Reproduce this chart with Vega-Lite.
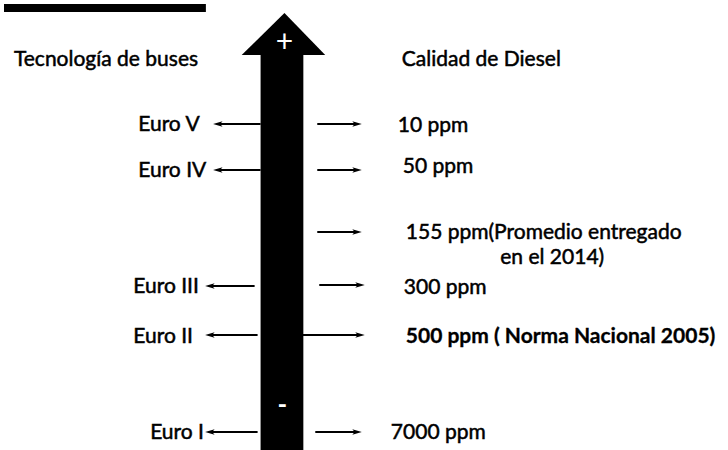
{
  "$schema": "https://vega.github.io/schema/vega-lite/v6.json",
  "width": 728,
  "height": 450,
  "padding": 0,
  "autosize": {"type": "fit", "contains": "padding"},
  "background": "white",
  "config": {"view": {"stroke": null}},
  "datasets": {
    "bar": [{"x": 0, "x2": 203, "y": 8}],
    "shaft": [{"x": 258, "x2": 301, "y": 55, "y2": 450}],
    "head": [{"x": 239, "y": 55}, {"x": 282, "y": 13}, {"x": 323, "y": 55}],
    "plus": [{"t": "+", "x": 282, "y": 43}],
    "minus": [{"t": "-", "x": 280, "y": 406}],
    "arrows": [
      {"side": "left", "y": 124, "xs": 258, "xe": 215},
      {"side": "left", "y": 170, "xs": 258, "xe": 215},
      {"side": "left", "y": 286, "xs": 252, "xe": 207},
      {"side": "left", "y": 335, "xs": 255, "xe": 207},
      {"side": "left", "y": 432, "xs": 255, "xe": 207},
      {"side": "right", "y": 124, "xs": 315, "xe": 355},
      {"side": "right", "y": 170, "xs": 315, "xe": 355},
      {"side": "right", "y": 232, "xs": 315, "xe": 355},
      {"side": "right", "y": 285, "xs": 317, "xe": 358},
      {"side": "right", "y": 335, "xs": 300, "xe": 358},
      {"side": "right", "y": 432, "xs": 313, "xe": 355}
    ],
    "labels": [
      {"t": "Tecnología de buses", "x": 10, "y": 60},
      {"t": "Calidad de Diesel", "x": 400, "y": 60},
      {"t": "Euro V", "x": 135, "y": 125},
      {"t": "Euro IV", "x": 135, "y": 171},
      {"t": "Euro III", "x": 130, "y": 287},
      {"t": "Euro II", "x": 130, "y": 337},
      {"t": "Euro I", "x": 147, "y": 433},
      {"t": "10 ppm", "x": 396, "y": 126},
      {"t": "50 ppm", "x": 401, "y": 167},
      {"t": "155 ppm(Promedio entregado", "x": 404, "y": 233},
      {"t": "en el 2014)", "x": 499, "y": 258},
      {"t": "300 ppm", "x": 402, "y": 288},
      {"t": "7000 ppm", "x": 389, "y": 433}
    ],
    "boldlabels": [
      {"t": "500 ppm ( Norma Nacional 2005)", "x": 404, "y": 337}
    ]
  },
  "layer": [
    {
      "data": {"name": "bar"},
      "mark": {"type": "rule", "color": "black", "strokeWidth": 8},
      "encoding": {
        "x": {"field": "x", "type": "quantitative", "scale": {"domain": [0, 728], "nice": false, "zero": false}, "axis": null},
        "x2": {"field": "x2"},
        "y": {"field": "y", "type": "quantitative", "scale": {"domain": [0, 450], "reverse": true, "nice": false, "zero": false}, "axis": null}
      }
    },
    {
      "data": {"name": "shaft"},
      "mark": {"type": "rect", "color": "black"},
      "encoding": {
        "x": {"field": "x", "type": "quantitative", "axis": null},
        "x2": {"field": "x2"},
        "y": {"field": "y", "type": "quantitative", "axis": null},
        "y2": {"field": "y2"}
      }
    },
    {
      "data": {"name": "head"},
      "mark": {"type": "area", "color": "black", "line": false},
      "encoding": {
        "x": {"field": "x", "type": "quantitative", "axis": null},
        "y": {"field": "y", "type": "quantitative", "axis": null},
        "y2": {"datum": 55}
      }
    },
    {
      "data": {"name": "plus"},
      "mark": {"type": "text", "color": "white", "font": "Lato", "fontSize": 30, "baseline": "middle", "align": "center"},
      "encoding": {
        "x": {"field": "x", "type": "quantitative", "axis": null},
        "y": {"field": "y", "type": "quantitative", "axis": null},
        "text": {"field": "t"}
      }
    },
    {
      "data": {"name": "minus"},
      "mark": {"type": "text", "color": "white", "font": "Lato", "fontSize": 26, "fontWeight": "bold", "baseline": "middle", "align": "center"},
      "encoding": {
        "x": {"field": "x", "type": "quantitative", "axis": null},
        "y": {"field": "y", "type": "quantitative", "axis": null},
        "text": {"field": "t"}
      }
    },
    {
      "data": {"name": "arrows"},
      "mark": {"type": "rule", "color": "black", "strokeWidth": 2},
      "encoding": {
        "x": {"field": "xs", "type": "quantitative", "axis": null},
        "x2": {"field": "xe"},
        "y": {"field": "y", "type": "quantitative", "axis": null}
      }
    },
    {
      "data": {"name": "arrows"},
      "mark": {"type": "point", "filled": true, "color": "black", "size": 90, "opacity": 1},
      "encoding": {
        "x": {"field": "xe", "type": "quantitative", "axis": null},
        "y": {"field": "y", "type": "quantitative", "axis": null},
        "shape": {"field": "side", "type": "nominal", "legend": null, "scale": {"domain": ["left", "right"], "range": ["M-1,0L1,-0.6L0.5,0L1,0.6Z", "M1,0L-1,-0.6L-0.5,0L-1,0.6Z"]}}
      }
    },
    {
      "data": {"name": "labels"},
      "mark": {"type": "text", "color": "black", "stroke": "black", "strokeWidth": 0.5, "font": "Lato", "fontSize": 21, "baseline": "middle", "align": "left"},
      "encoding": {
        "x": {"field": "x", "type": "quantitative", "axis": null},
        "y": {"field": "y", "type": "quantitative", "axis": null},
        "text": {"field": "t"}
      }
    },
    {
      "data": {"name": "boldlabels"},
      "mark": {"type": "text", "color": "black", "stroke": "black", "strokeWidth": 0.3, "font": "Lato", "fontSize": 21, "fontWeight": "bold", "baseline": "middle", "align": "left"},
      "encoding": {
        "x": {"field": "x", "type": "quantitative", "axis": null},
        "y": {"field": "y", "type": "quantitative", "axis": null},
        "text": {"field": "t"}
      }
    }
  ]
}
